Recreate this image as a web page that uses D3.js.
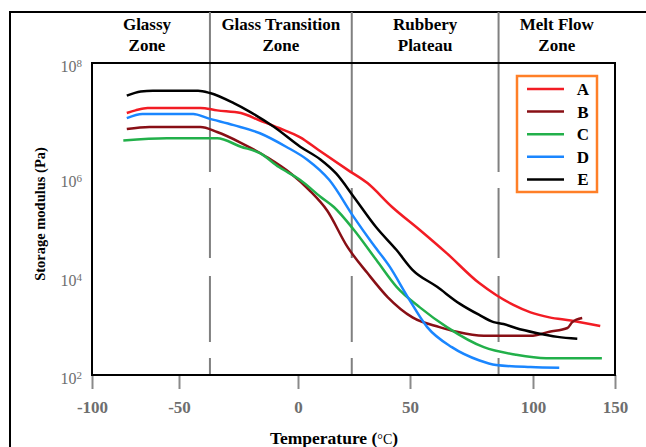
<!DOCTYPE html>
<html>
<head>
<meta charset="utf-8">
<script src="https://cdn.jsdelivr.net/npm/d3@7"></script>
<style>
  body { margin: 0; background: #fff; }
  svg { display: block; }
  text { font-family: "Liberation Serif", "Times New Roman", serif; }
</style>
</head>
<body>
<div id="chart"></div>
<script>
const W = 646, H = 447;

// tick labels and zone headers
const xTicks = [-100, -50, 0, 50, 100, 150];
const yTicks = [1e2, 1e4, 1e6, 1e8];
const zoneNames = [["Glassy", "Zone"], ["Glass Transition", "Zone"], ["Rubbery", "Plateau"], ["Melt Flow", "Zone"]];
const zoneBounds = [-100, -37, 24, 86, 150]; // temperatures of the dashed dividers

const seriesNames = ["A", "B", "C", "D", "E"];
const seriesColors = ["#f21c24", "#880f15", "#22b04a", "#1a86ff", "#000000"];

// temperature (°C) / storage modulus (Pa)
const tempA = [-80, -75, -68, -41, -34, -24, -16, -8, 1, 9, 22, 31, 42, 54, 65, 78, 85, 92, 99, 110, 123, 141];
const modA  = [1.35e7, 1.5e7, 1.65e7, 1.65e7, 1.5e7, 1.35e7, 1.0e7, 7.4e6, 5.1e6, 3.1e6, 1.4e6, 7.9e5, 2.6e5, 8.9e4, 3.0e4, 7.6e3, 4.3e3, 2.7e3, 1.9e3, 1.5e3, 1.3e3, 1.0e3];

const tempB = [-80, -67, -41, -34, -24, -13, -3, 5, 13, 22, 31, 40, 51, 62, 69, 80, 99, 110, 121, 124, 130];
const modB  = [7.1e6, 7.7e6, 7.7e6, 6.3e6, 4.1e6, 2.3e6, 1.2e6, 5.7e5, 2.2e5, 4.1e4, 1.2e4, 3.9e3, 1.5e3, 9.5e2, 7.6e2, 6.3e2, 6.3e2, 7.6e2, 9.1e2, 1.2e3, 1.45e3];

const tempC = [-82, -57, -34, -24, -16, -8, 1, 10, 16, 25, 35, 44, 54, 65, 80, 93, 108, 142];
const modC  = [4.5e6, 4.9e6, 4.9e6, 3.5e6, 2.7e6, 1.55e6, 9.1e5, 4.2e5, 2.6e5, 8.9e4, 2.2e4, 6.3e3, 2.4e3, 9.5e2, 3.7e2, 2.6e2, 2.2e2, 2.2e2];

const tempD = [-80, -71, -44, -38, -27, -16, -5, 4, 14, 25, 33, 41, 49, 57, 67, 78, 85, 99, 116];
const modD  = [1.1e7, 1.3e7, 1.3e7, 1.1e7, 8.3e6, 6.0e6, 3.5e6, 2.1e6, 9.1e5, 1.6e5, 4.9e4, 1.6e4, 3.9e3, 9.5e2, 3.7e2, 2.0e2, 1.6e2, 1.45e2, 1.4e2];

const tempE = [-80, -72, -65, -42, -37, -27, -20, -10, 1, 10, 17, 25, 35, 44, 51, 61, 70, 78, 84, 88, 93, 102, 115, 127];
const modE  = [2.7e7, 3.2e7, 3.3e7, 3.3e7, 3.0e7, 2.0e7, 1.4e7, 7.7e6, 3.5e6, 2.1e6, 1.2e6, 4.1e5, 1.0e5, 3.5e4, 1.4e4, 6.3e3, 2.9e3, 1.7e3, 1.2e3, 1.1e3, 9.1e2, 7.2e2, 6.0e2, 5.5e2];

const temps = [tempA, tempB, tempC, tempD, tempE];
const mods = [modA, modB, modC, modD, modE];

// the original axes are not evenly spaced, so piecewise scales
const x = d3.scaleLinear()
    .domain(xTicks)
    .range([92, 179, 298, 410, 533, 615]);

const y = d3.scaleLog()
    .domain(yTicks)
    .range([375, 277, 178, 63]);

const svg = d3.select("#chart").append("svg")
    .attr("width", W)
    .attr("height", H);

// outer frame (only top and left fall inside the picture)
svg.append("path")
    .attr("d", "M10," + H + "V12H" + W)
    .attr("fill", "none")
    .attr("stroke", "#000")
    .attr("stroke-width", 2);

// zone dividers
svg.selectAll(".zone-line")
    .data(zoneBounds.slice(1, 4))
    .enter().append("line")
    .attr("class", "zone-line")
    .attr("x1", d => x(d)).attr("x2", d => x(d))
    .attr("y1", 12).attr("y2", 375)
    .attr("stroke", "#808080")
    .attr("stroke-width", 2)
    .attr("stroke-dasharray", "160,16,70,18,66,16,70");

// zone headers
const zoneX = (d, i) => i == 0 ? 147 : (x(zoneBounds[i]) + x(zoneBounds[i + 1])) / 2;
const zoneText = svg.selectAll(".zone")
    .data(zoneNames)
    .enter().append("text")
    .attr("class", "zone")
    .attr("text-anchor", "middle")
    .attr("font-weight", "bold")
    .attr("font-size", 17);

zoneText.append("tspan").attr("x", zoneX).attr("y", 30).text(d => d[0]);
zoneText.append("tspan").attr("x", zoneX).attr("y", 51).text(d => d[1]);

// x axis
const xAxis = svg.append("g")
    .attr("transform", "translate(0,375)")
    .call(d3.axisBottom(x).tickValues(xTicks).tickSize(14).tickPadding(12).tickFormat(d => String(d)));
xAxis.select(".domain").remove();
xAxis.selectAll(".tick line").attr("stroke", "#8a8a8a").attr("stroke-width", 2);
xAxis.selectAll(".tick text")
    .attr("fill", "#6e6e6e")
    .attr("font-size", 17)
    .attr("font-family", "Liberation Serif, serif")
    .attr("font-weight", "bold");

// y axis with 10^n labels
const yAxis = svg.append("g")
    .attr("transform", "translate(82,3)")
    .call(d3.axisLeft(y).tickValues(yTicks).tickSize(0).tickPadding(0));
yAxis.select(".domain").remove();
yAxis.selectAll(".tick text")
    .attr("fill", "#6e6e6e")
    .attr("font-size", 16)
    .attr("font-family", "Liberation Serif, serif")
    .text(null)
    .each(function(d) {
        const t = d3.select(this);
        t.append("tspan").text("10");
        t.append("tspan").attr("dy", "-0.45em").attr("font-size", 11).text(Math.round(Math.log10(d)));
    });

// plot frame
svg.append("rect")
    .attr("x", x(-100)).attr("y", y(1e8))
    .attr("width", x(150) - x(-100))
    .attr("height", y(1e2) - y(1e8))
    .attr("fill", "none")
    .attr("stroke", "#000")
    .attr("stroke-width", 2);

// curves
const line = d3.line()
    .x(d => x(d[0]))
    .y(d => y(d[1]))
    .curve(d3.curveMonotoneX);

svg.selectAll(".curve")
    .data(seriesNames)
    .enter().append("path")
    .attr("class", "curve")
    .attr("d", (d, i) => line(d3.zip(temps[i], mods[i])))
    .attr("fill", "none")
    .attr("stroke", (d, i) => seriesColors[i])
    .attr("stroke-width", 2.5);

// legend
const legend = svg.append("g");
legend.append("rect")
    .attr("x", 517).attr("y", 76)
    .attr("width", 80).attr("height", 116)
    .attr("fill", "#fff")
    .attr("stroke", "#ff7f27")
    .attr("stroke-width", 2.5);

const rows = legend.selectAll(".row")
    .data(seriesNames)
    .enter().append("g")
    .attr("transform", (d, i) => "translate(0," + (89 + i * 22.6) + ")");
rows.append("line")
    .attr("x1", 527).attr("x2", 564)
    .attr("stroke", (d, i) => seriesColors[i])
    .attr("stroke-width", 2.5);
rows.append("text")
    .attr("x", 583)
    .attr("dy", "0.35em")
    .attr("text-anchor", "middle")
    .attr("font-weight", "bold")
    .attr("font-size", 17)
    .text(d => d);

// axis titles
svg.append("text")
    .attr("transform", "translate(45,214) rotate(-90)")
    .attr("text-anchor", "middle")
    .attr("font-weight", "bold")
    .attr("font-size", 14.5)
    .text("Storage modulus (Pa)");

const xt = svg.append("text")
    .attr("x", 334).attr("y", 444)
    .attr("text-anchor", "middle")
    .attr("font-weight", "bold")
    .attr("font-size", 17.5);
xt.append("tspan").text("Temperature (");
xt.append("tspan").attr("font-weight", "normal").attr("font-size", 14).text("°C");
xt.append("tspan").text(")");
</script>
</body>
</html>
